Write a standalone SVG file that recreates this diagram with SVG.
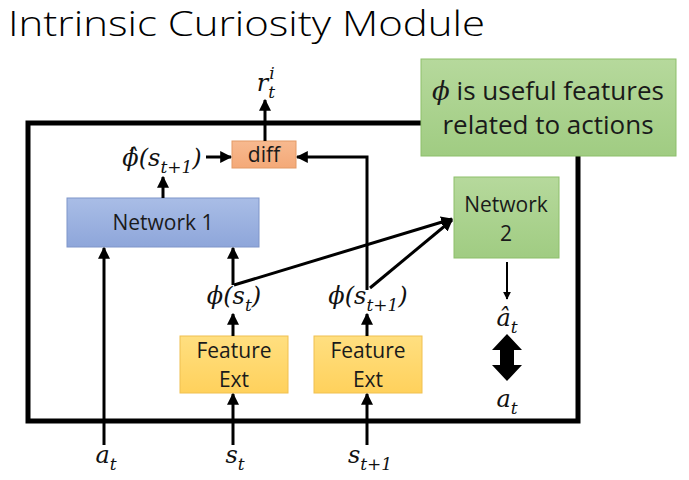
<svg xmlns="http://www.w3.org/2000/svg" width="689" height="480" viewBox="0 0 689 480">
<defs>
<marker id="ah" viewBox="0 0 10 10" refX="9" refY="5" markerWidth="4" markerHeight="4" orient="auto" markerUnits="strokeWidth">
<path d="M0,0 L10,5 L0,10 z" fill="#000"/>
</marker>
<linearGradient id="gBlue" x1="0" y1="0" x2="0" y2="1"><stop offset="0" stop-color="#a9bde6"/><stop offset="1" stop-color="#8ea6da"/></linearGradient>
<linearGradient id="gGreen" x1="0" y1="0" x2="0" y2="1"><stop offset="0" stop-color="#b6d99c"/><stop offset="1" stop-color="#a0cc82"/></linearGradient>
<linearGradient id="gYel" x1="0" y1="0" x2="0" y2="1"><stop offset="0" stop-color="#ffdf80"/><stop offset="1" stop-color="#ffd15c"/></linearGradient>
<linearGradient id="gOr" x1="0" y1="0" x2="0" y2="1"><stop offset="0" stop-color="#f7b98f"/><stop offset="1" stop-color="#f4a978"/></linearGradient>
</defs>
<style>
.lbl{font-family:"Open Sans","Liberation Sans",sans-serif;fill:#1a1a1a;text-anchor:middle;font-size:21px}
.m{font-family:"DejaVu Serif","Liberation Serif",serif;font-style:italic;font-size:24px;fill:#111;text-anchor:middle}
.s{font-size:17px}
.c{stroke:#000;stroke-width:3;fill:none}
</style>
<rect width="689" height="480" fill="#fff"/>
<text x="8" y="36" font-family="'Open Sans','Liberation Sans',sans-serif" font-weight="300" font-size="34" fill="#000" textLength="477" lengthAdjust="spacingAndGlyphs">Intrinsic Curiosity Module</text>

<g id="frame">
<path d="M421,123 L28,123 L28,421 L578,421 L578,156" fill="none" stroke="#000" stroke-width="5"/>
</g>

<g id="network1">
<rect x="67" y="198" width="192" height="49" fill="url(#gBlue)" stroke="#7f95c9" stroke-width="1"/>
<text class="lbl" x="163" y="230">Network 1</text>
</g>
<g id="diff">
<rect x="232" y="141" width="64" height="27" fill="url(#gOr)" stroke="#e39a66" stroke-width="1"/>
<text class="lbl" x="264" y="162">diff</text>
</g>
<g id="network2">
<rect x="454" y="177" width="105" height="81" fill="url(#gGreen)" stroke="#8dbf6b" stroke-width="1"/>
<text class="lbl" x="506" y="212">Network</text>
<text class="lbl" x="506" y="241">2</text>
</g>
<g id="fe1">
<rect x="180" y="336" width="108" height="57" fill="url(#gYel)" stroke="#f0c050" stroke-width="1"/>
<text class="lbl" x="234" y="358">Feature</text>
<text class="lbl" x="234" y="387">Ext</text>
</g>
<g id="fe2">
<rect x="314" y="336" width="108" height="57" fill="url(#gYel)" stroke="#f0c050" stroke-width="1"/>
<text class="lbl" x="368" y="358">Feature</text>
<text class="lbl" x="368" y="387">Ext</text>
</g>
<g id="callout">
<rect x="421" y="59" width="255" height="97" fill="url(#gGreen)" stroke="#8dbf6b" stroke-width="1"/>
<text class="lbl" x="548" y="100" style="font-size:26px"><tspan font-family="'DejaVu Serif',serif" font-style="italic">ϕ</tspan> is useful features</text>
<text class="lbl" x="548" y="134" style="font-size:26px">related to actions</text>
</g>

<g id="labels">
<text class="m" x="266" y="91">r<tspan class="s" dy="7">t</tspan><tspan class="s" dx="-6" dy="-19">i</tspan></text>
<text class="m" x="162" y="166">ϕ̂(s<tspan class="s" dy="7">t+1</tspan><tspan dy="-7">)</tspan></text>
<text class="m" x="234" y="304">ϕ(s<tspan class="s" dy="7">t</tspan><tspan dy="-7">)</tspan></text>
<text class="m" x="368" y="304">ϕ(s<tspan class="s" dy="7">t+1</tspan><tspan dy="-7">)</tspan></text>
<text class="m" x="507" y="326">â<tspan class="s" dy="7">t</tspan></text>
<text class="m" x="507" y="407">a<tspan class="s" dy="7">t</tspan></text>
<text class="m" x="106" y="463">a<tspan class="s" dy="7">t</tspan></text>
<text class="m" x="235" y="463">s<tspan class="s" dy="7">t</tspan></text>
<text class="m" x="370" y="463">s<tspan class="s" dy="7">t+1</tspan></text>
</g>

<g id="connectors">
<line class="c" x1="265" y1="141" x2="265" y2="100" marker-end="url(#ah)"/>
<line class="c" x1="206" y1="157" x2="231" y2="157" marker-end="url(#ah)"/>
<polyline class="c" points="367,290 367,157 297,157" marker-end="url(#ah)"/>
<line class="c" x1="163" y1="198" x2="163" y2="177" marker-end="url(#ah)"/>
<line class="c" x1="104" y1="445" x2="104" y2="248" marker-end="url(#ah)"/>
<line class="c" x1="233" y1="285" x2="233" y2="248" marker-end="url(#ah)"/>
<line class="c" x1="233" y1="336" x2="233" y2="314" marker-end="url(#ah)"/>
<line class="c" x1="233" y1="445" x2="233" y2="394" marker-end="url(#ah)"/>
<line class="c" x1="367" y1="336" x2="367" y2="314" marker-end="url(#ah)"/>
<line class="c" x1="367" y1="445" x2="367" y2="394" marker-end="url(#ah)"/>
<line class="c" x1="234" y1="285" x2="452" y2="219" marker-end="url(#ah)"/>
<line class="c" x1="370" y1="288" x2="452" y2="220" marker-end="url(#ah)"/>
<line x1="507" y1="262" x2="507" y2="299" stroke="#000" stroke-width="2" marker-end="url(#ah)"/>
<path d="M507,334 L522,350 L514,350 L514,365 L522,365 L507,381 L492,365 L500,365 L500,350 L492,350 Z" fill="#000"/>
</g>
</svg>
